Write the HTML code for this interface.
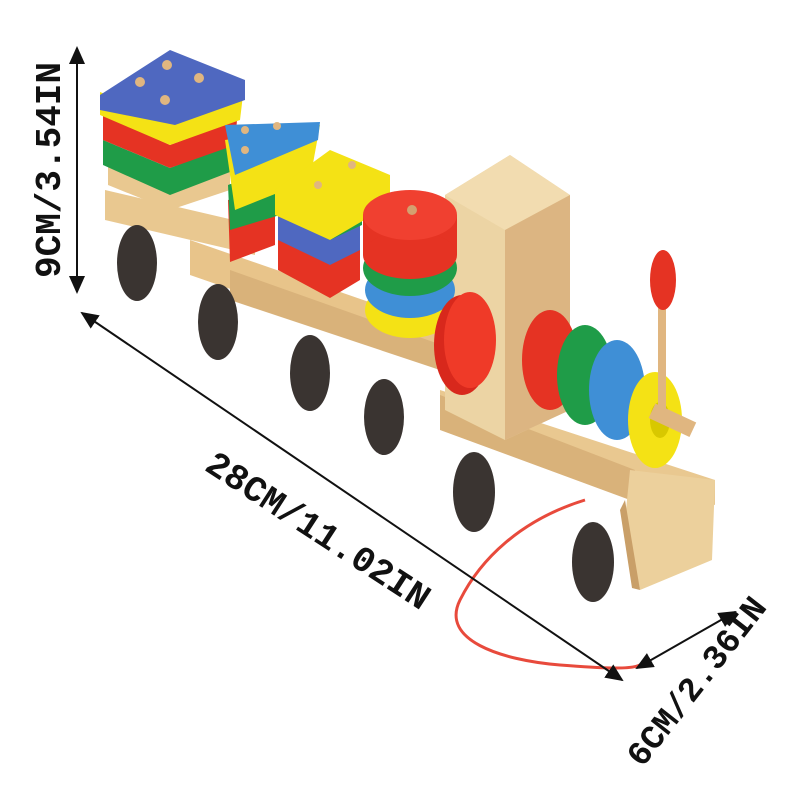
<!DOCTYPE html>
<html><head><meta charset="utf-8"><style>
html,body{margin:0;padding:0;background:#fff;width:800px;height:800px;overflow:hidden}
</style></head><body>
<svg width="800" height="800" viewBox="0 0 800 800" xmlns="http://www.w3.org/2000/svg">
<defs>
<marker id="ah" markerWidth="10" markerHeight="10" refX="8" refY="5" orient="auto-start-reverse"><path d="M0,1 L9,5 L0,9 Z" fill="#111"/></marker>
</defs>
<rect width="800" height="800" fill="#fff"/>
<!-- base planks -->
<polygon points="105,190 255,225 255,255 105,220" fill="#e9c890"/>
<polygon points="190,240 450,330 450,365 190,275" fill="#e8c48a"/>
<polygon points="230,270 470,355 470,380 230,300" fill="#d9b27a"/>
<polygon points="440,390 715,480 715,505 440,420" fill="#e9c890"/>
<polygon points="440,395 440,430 630,500 635,470" fill="#d9b27a"/>
<polygon points="630,470 715,480 712,560 640,590 625,520" fill="#ecd09c"/>
<polygon points="625,500 640,590 632,588 620,510" fill="#c99f68"/>
<!-- cab -->
<polygon points="445,195 510,155 570,195 570,410 505,440 445,410" fill="#ecd4a4"/>
<polygon points="445,195 510,155 570,195 505,230" fill="#f2dcb0"/>
<polygon points="505,230 570,195 570,410 505,440" fill="#dcb582"/>
<!-- blocks car 1 -->
<polygon points="108,185 170,210 230,190 230,160 170,180 108,160" fill="#e9c890"/>
<polygon points="103,165 170,195 230,172 230,145 170,168 103,140" fill="#1f9c48"/>
<polygon points="103,140 170,168 235,145 237,120 170,145 103,115" fill="#e53323"/>
<polygon points="100,115 170,145 240,120 243,95 170,120 100,92" fill="#f4e215"/>
<polygon points="100,95 170,50 245,80 245,100 175,125 100,110" fill="#4f68c0"/>
<circle cx="140" cy="82" r="5" fill="#e0b680"/><circle cx="167" cy="65" r="5" fill="#e0b680"/><circle cx="199" cy="78" r="5" fill="#e0b680"/><circle cx="165" cy="100" r="5" fill="#e0b680"/>
<!-- triangle stack -->
<polygon points="228,200 275,185 275,245 230,262" fill="#e53323"/>
<polygon points="228,185 280,165 280,215 230,230" fill="#1f9c48"/>
<polygon points="225,140 320,125 310,180 235,210" fill="#f4e215"/>
<polygon points="225,125 320,122 318,140 235,175" fill="#3f8fd6"/>
<circle cx="245" cy="130" r="4" fill="#e0b680"/><circle cx="277" cy="126" r="4" fill="#e0b680"/><circle cx="245" cy="150" r="4" fill="#e0b680"/>
<!-- rect stack -->
<polygon points="278,270 330,298 360,280 360,250 278,230" fill="#e53323"/>
<polygon points="278,240 330,265 360,250 360,225 278,210" fill="#4f68c0"/>
<polygon points="278,215 330,240 362,225 362,200 278,190" fill="#1f9c48"/>
<polygon points="275,190 330,150 390,175 390,205 330,240 275,215" fill="#f4e215"/>
<circle cx="318" cy="185" r="4" fill="#e0b680"/><circle cx="352" cy="165" r="4" fill="#e0b680"/>
<!-- round stack -->
<ellipse cx="410" cy="310" rx="45" ry="28" fill="#f4e215"/>
<ellipse cx="410" cy="290" rx="45" ry="28" fill="#3f8fd6"/>
<ellipse cx="410" cy="268" rx="47" ry="28" fill="#1f9c48"/>
<rect x="363" y="215" width="94" height="40" fill="#e53323"/>
<ellipse cx="410" cy="255" rx="47" ry="24" fill="#e53323"/>
<ellipse cx="410" cy="215" rx="47" ry="25" fill="#f04030"/>
<circle cx="412" cy="210" r="5" fill="#d4a070"/>
<!-- red disc on cab -->
<ellipse cx="462" cy="345" rx="28" ry="50" fill="#d8281c"/>
<ellipse cx="470" cy="340" rx="26" ry="48" fill="#ef3a28"/>
<!-- rings on boiler -->
<ellipse cx="550" cy="360" rx="28" ry="50" fill="#e53323"/>
<ellipse cx="585" cy="375" rx="28" ry="50" fill="#1f9c48"/>
<ellipse cx="617" cy="390" rx="28" ry="50" fill="#3f8fd6"/>
<ellipse cx="655" cy="420" rx="27" ry="48" fill="#f4e215"/>
<ellipse cx="660" cy="420" rx="10" ry="18" fill="#d8c800"/>
<rect x="658" y="290" width="8" height="120" fill="#e0b680"/>
<ellipse cx="663" cy="280" rx="13" ry="30" fill="#e53323"/>
<rect x="650" y="412" width="45" height="16" transform="rotate(25 672 420)" fill="#e0b680"/>
<!-- wheels -->
<g fill="#3a3431">
<ellipse cx="137" cy="263" rx="20" ry="38"/>
<ellipse cx="218" cy="322" rx="20" ry="38"/>
<ellipse cx="310" cy="373" rx="20" ry="38"/>
<ellipse cx="384" cy="417" rx="20" ry="38"/>
<ellipse cx="474" cy="492" rx="21" ry="40"/>
<ellipse cx="593" cy="562" rx="21" ry="40"/>
</g>
<!-- string -->
<path d="M585,500 C520,520 480,560 460,600 C440,640 500,660 560,665 C600,668 630,670 640,665" fill="none" stroke="#e84a3c" stroke-width="3"/>
<!-- arrows -->
<line x1="77" y1="48" x2="77" y2="292" stroke="#111" stroke-width="2" marker-start="url(#ah)" marker-end="url(#ah)"/>
<line x1="82" y1="313" x2="622" y2="680" stroke="#111" stroke-width="2" marker-start="url(#ah)" marker-end="url(#ah)"/>
<line x1="637" y1="668" x2="735" y2="612" stroke="#111" stroke-width="2" marker-start="url(#ah)" marker-end="url(#ah)"/>
<!-- labels -->
<g font-family="'Liberation Mono', monospace" font-weight="bold" fill="#111">
<text x="0" y="0" font-size="36" text-anchor="middle" transform="translate(60,170) rotate(-90)">9CM/3.54IN</text>
<text x="0" y="0" font-size="36" text-anchor="middle" transform="translate(312,540) rotate(33)">28CM/11.02IN</text>
<text x="0" y="0" font-size="34" text-anchor="middle" transform="translate(705,688) rotate(-52)">6CM/2.36IN</text>
</g>
</svg>
</body></html>
